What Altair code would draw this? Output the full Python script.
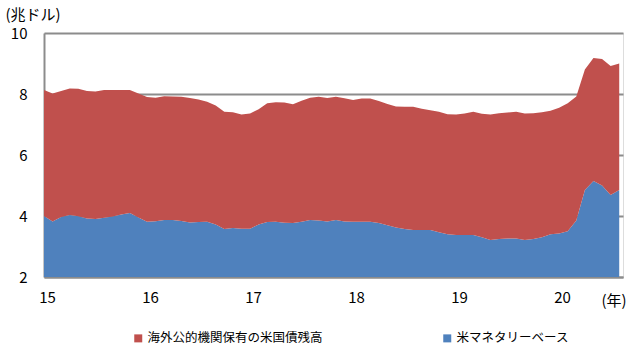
import altair as alt
import pandas as pd

# Monthly, Jan 2015 .. Aug 2020 (trillion USD)
year_start = 15
n_months = 68
base = [4.00, 3.82, 3.97, 4.03, 3.99, 3.92, 3.90, 3.94, 3.98, 4.05, 4.10, 3.95,
        3.81, 3.83, 3.87, 3.87, 3.84, 3.79, 3.80, 3.81, 3.72, 3.57, 3.61, 3.58,
        3.58, 3.72, 3.80, 3.81, 3.78, 3.77, 3.81, 3.87, 3.85, 3.82, 3.87, 3.82,
        3.81, 3.81, 3.81, 3.77, 3.70, 3.62, 3.57, 3.54, 3.54, 3.54, 3.47, 3.40,
        3.38, 3.38, 3.38, 3.30, 3.21, 3.25, 3.26, 3.26, 3.21, 3.25, 3.30, 3.40,
        3.43, 3.50, 3.85, 4.85, 5.15, 5.00, 4.69, 4.85]
holdings = [4.13, 4.20, 4.13, 4.15, 4.18, 4.18, 4.18, 4.19, 4.15, 4.08, 4.03, 4.07,
            4.09, 4.05, 4.06, 4.05, 4.07, 4.08, 4.02, 3.94, 3.90, 3.85, 3.79, 3.75,
            3.78, 3.78, 3.90, 3.92, 3.94, 3.89, 3.97, 4.01, 4.06, 4.05, 4.04, 4.04,
            3.99, 4.04, 4.04, 4.00, 3.97, 3.97, 4.01, 4.04, 3.98, 3.93, 3.95, 3.94,
            3.95, 3.98, 4.04, 4.05, 4.12, 4.12, 4.13, 4.16, 4.15, 4.12, 4.10, 4.05,
            4.12, 4.20, 4.07, 3.95, 4.03, 4.15, 4.23, 4.15]

name_red = "海外公的機関保有の米国債残高"
name_blue = "米マネタリーベース"
year_ticks = [15, 16, 17, 18, 19, 20]
y_ticks = [2, 4, 6, 8, 10]

rows = []
for i in range(n_months):
    t = year_start + i / 12
    rows.append({"t": t, "v": base[i], "s": name_blue, "o": 0})
    rows.append({"t": t, "v": holdings[i], "s": name_red, "o": 1})
df = pd.DataFrame(rows)

FONT = "Noto Sans CJK JP"
GRAY = "#8c8c8c"

chart = alt.Chart(df).mark_area(clip=True, opacity=1, interpolate="linear").encode(
    x=alt.X("t:Q",
            scale=alt.Scale(domain=[15, 20.62], nice=False, zero=False),
            axis=alt.Axis(values=year_ticks, format="d", title="(年)",
                          grid=False, ticks=False, domainColor=GRAY, domainWidth=2,
                          labelFontSize=15, labelFont=FONT, labelColor="#000",
                          labelPadding=13, labelFlush=False, labelOffset=3,
                          titleFontSize=15, titleFont=FONT, titleFontWeight="normal",
                          titleColor="#000",
                          titleAngle=0, titleAlign="left", titleBaseline="middle",
                          titleX=557, titleY=23)),
    y=alt.Y("v:Q", stack="zero",
            scale=alt.Scale(domain=[2, 10], nice=False, zero=False),
            axis=alt.Axis(values=y_ticks, title="(兆ドル)", grid=True,
                          gridColor=GRAY, gridWidth=2, ticks=False,
                          domainColor=GRAY, domainWidth=2,
                          labelFontSize=15, labelFont=FONT, labelColor="#000",
                          labelPadding=17,
                          titleFontSize=15, titleFont=FONT, titleFontWeight="normal",
                          titleColor="#000",
                          titleAngle=0, titleAlign="left", titleBaseline="middle",
                          titleX=-39, titleY=-19)),
    color=alt.Color("s:N",
                    scale=alt.Scale(domain=[name_red, name_blue],
                                    range=["#C0504D", "#4F81BD"]),
                    legend=alt.Legend(title=None, orient="none", direction="horizontal",
                                      legendX=88, legendY=299,
                                      symbolType="square", symbolSize=64,
                                      symbolStrokeWidth=0,
                                      labelFontSize=12.5, labelFont=FONT, labelColor="#000",
                                      labelLimit=400, columnPadding=118, labelOffset=3)),
    order=alt.Order("o:Q"),
).properties(
    width=579, height=244,
    autosize=alt.AutoSizeParams(type="none"),
    padding={"left": 44, "top": 33, "right": 17, "bottom": 76},
).configure_view(stroke=None).configure(background="white")

chart.save("out.html", embed_options={"renderer": "svg", "actions": False})
